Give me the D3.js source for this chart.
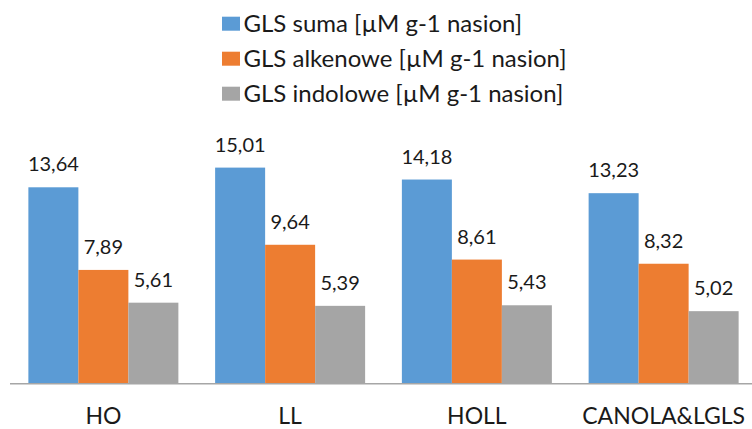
<!DOCTYPE html>
<html>
<head>
<meta charset="utf-8">
<script src="https://cdn.jsdelivr.net/npm/d3@7"></script>
<style>
  body { margin: 0; background: #fff; }
  svg { display: block; font-family: Lato, "Open Sans", sans-serif; }
</style>
</head>
<body>
<div id="chart"></div>
<script>
// chart data
const categories = ["HO", "LL", "HOLL", "CANOLA&LGLS"];
const seriesNames = [
    "GLS suma [µM g-1 nasion]",
    "GLS alkenowe [µM g-1 nasion]",
    "GLS indolowe [µM g-1 nasion]"
];
const sumaValues = [13.64, 15.01, 14.18, 13.23];
const alkenoweValues = [7.89, 9.64, 8.61, 8.32];
const indoloweValues = [5.61, 5.39, 5.43, 5.02];
const colors = ["#5b9bd5", "#ed7d31", "#a5a5a5"];

const width = 752;
const height = 429;
const baseline = 383.3;

const seriesValues = [sumaValues, alkenoweValues, indoloweValues];
const rows = categories.map((c, i) => ({
    cat: c,
    vals: seriesNames.map((s, j) => ({ key: s, idx: j, value: seriesValues[j][i] }))
}));

const svg = d3.select("#chart")
    .append("svg")
    .attr("width", width)
    .attr("height", height);

// scales
const x0 = d3.scaleBand()
    .domain(categories)
    .range([10, 757])
    .paddingInner(0)
    .paddingOuter(0);

const x1 = d3.scaleBand()
    .domain(seriesNames)
    .range([0, x0.bandwidth()])
    .paddingInner(0)
    .paddingOuter(0.3675);

const y = d3.scaleLinear()
    .domain([0, 16])
    .range([baseline, baseline - 16 * 14.37]);

const color = d3.scaleOrdinal(seriesNames, colors);

// bars
const group = svg.append("g")
    .selectAll("g")
    .data(rows)
    .join("g")
    .attr("transform", d => `translate(${x0(d.cat)},0)`);

group.selectAll("rect")
    .data(d => d.vals)
    .join("rect")
    .attr("x", d => x1(d.key))
    .attr("y", d => y(d.value))
    .attr("width", x1.bandwidth())
    .attr("height", d => baseline - y(d.value))
    .attr("fill", d => color(d.key));

// value labels
const fmt = v => d3.format(".2f")(v).replace(".", ",");
group.selectAll("text")
    .data(d => d.vals)
    .join("text")
    .attr("x", d => x1(d.key) + x1.bandwidth() / 2)
    .attr("y", d => y(d.value) - 16)
    .attr("text-anchor", "middle")
    .attr("font-size", "20px")
    .attr("fill", "#1a1a1a")
    .text(d => fmt(d.value));

// x axis line
svg.append("line")
    .attr("x1", 10)
    .attr("x2", 757)
    .attr("y1", baseline + 0.5)
    .attr("y2", baseline + 0.5)
    .attr("stroke", "#a6a6a6")
    .attr("stroke-width", 1.5);

// category labels
svg.append("g")
    .selectAll("text")
    .data(categories)
    .join("text")
    .attr("x", d => x0(d) + x0.bandwidth() / 2)
    .attr("y", 424)
    .attr("text-anchor", "middle")
    .attr("font-size", "23px")
    .attr("fill", "#1a1a1a")
    .text(d => d);

// legend
const legend = svg.append("g")
    .selectAll("g")
    .data(seriesNames)
    .join("g")
    .attr("transform", (d, i) => `translate(222, ${i * 35})`);

legend.append("rect")
    .attr("x", 0)
    .attr("y", 16.7)
    .attr("width", 18)
    .attr("height", 14)
    .attr("fill", d => color(d));

legend.append("text")
    .attr("x", 21.5)
    .attr("y", 31.7)
    .attr("font-size", "24px")
    .attr("fill", "#1a1a1a")
    .text(d => d);
</script>
</body>
</html>
